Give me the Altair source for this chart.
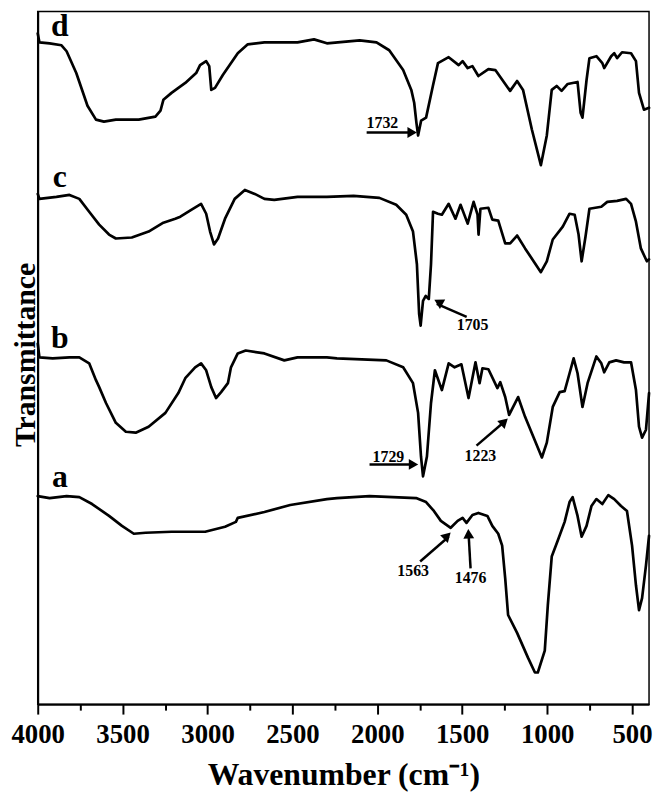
import altair as alt
import pandas as pd

d_wn = [4000, 3990, 3930, 3860, 3830, 3773, 3707, 3657, 3610, 3540, 3405, 3307, 3277, 3260, 3212, 3131, 3067, 3044, 3008, 2990, 2978, 2956, 2910, 2822, 2763, 2665, 2470, 2373, 2297, 2104, 2005, 1930, 1848, 1800, 1783, 1770, 1760, 1742, 1713, 1673, 1643, 1580, 1521, 1498, 1468, 1440, 1405, 1346, 1305, 1218, 1177, 1142, 1090, 1037, 1002, 973, 944, 915, 879, 821, 803, 792, 768, 751, 710, 675, 664, 623, 605, 588, 559, 506, 477, 459, 430, 400]
d_t = [677, 668, 667, 665, 659, 637, 604, 590, 588, 590, 590, 593, 599, 610, 617, 627, 637, 645, 649, 644, 620, 622, 635, 657, 666, 668, 668, 671, 667, 670, 668, 660, 640, 620, 607, 587, 574, 589, 592, 624, 647, 653, 645, 649, 642, 644, 634, 641, 640, 619, 629, 620, 580, 544, 574, 620, 624, 619, 626, 628, 597, 592, 630, 652, 654, 647, 642, 654, 657, 652, 658, 657, 649, 617, 600, 602]

c_wn = [4000, 3990, 3890, 3813, 3755, 3697, 3638, 3580, 3540, 3446, 3347, 3260, 3190, 3160, 3096, 3038, 3008, 2985, 2962, 2938, 2897, 2840, 2780, 2722, 2665, 2607, 2470, 2297, 2140, 1988, 1889, 1830, 1790, 1767, 1754, 1745, 1731, 1715, 1697, 1684, 1672, 1643, 1620, 1580, 1540, 1510, 1468, 1433, 1410, 1404, 1393, 1346, 1323, 1288, 1247, 1218, 1177, 1130, 1037, 1002, 967, 908, 868, 838, 815, 797, 774, 751, 681, 646, 588, 535, 506, 477, 448, 413, 400]
c_t = [515, 510, 512, 514, 510, 497, 484, 474, 470, 471, 477, 486, 490, 492, 499, 505, 495, 477, 464, 470, 490, 510, 519, 515, 510, 509, 512, 512, 513, 511, 504, 494, 477, 444, 394, 382, 407, 412, 409, 444, 497, 495, 494, 505, 490, 504, 485, 507, 494, 474, 500, 501, 489, 488, 465, 465, 473, 460, 436, 447, 469, 482, 495, 494, 474, 447, 472, 500, 502, 507, 508, 510, 505, 487, 460, 447, 449]

b_wn = [4000, 3990, 3912, 3813, 3755, 3697, 3657, 3638, 3598, 3540, 3481, 3423, 3347, 3248, 3172, 3131, 3073, 3038, 3008, 2978, 2950, 2920, 2880, 2862, 2822, 2775, 2665, 2548, 2470, 2297, 2238, 1947, 1848, 1790, 1760, 1743, 1731, 1708, 1684, 1661, 1620, 1580, 1545, 1505, 1463, 1422, 1398, 1381, 1346, 1293, 1276, 1247, 1224, 1171, 1130, 1031, 1002, 967, 926, 897, 868, 844, 821, 792, 762, 710, 681, 664, 634, 594, 547, 506, 477, 459, 441, 418, 400]
b_t = [364, 350, 349, 350, 350, 344, 327, 320, 304, 284, 275, 274, 280, 294, 314, 329, 340, 344, 337, 320, 309, 315, 324, 340, 354, 357, 354, 347, 350, 350, 349, 347, 340, 324, 294, 250, 230, 250, 304, 337, 317, 344, 340, 343, 309, 345, 324, 339, 338, 319, 325, 310, 292, 310, 290, 249, 264, 300, 315, 316, 334, 349, 334, 300, 324, 351, 344, 335, 345, 347, 345, 345, 317, 280, 269, 277, 314]

a_wn = [4000, 3930, 3830, 3755, 3680, 3580, 3504, 3434, 3365, 3212, 3014, 2897, 2833, 2822, 2665, 2513, 2297, 2238, 2046, 1772, 1713, 1667, 1626, 1568, 1527, 1498, 1475, 1440, 1405, 1352, 1323, 1288, 1265, 1247, 1230, 1177, 1113, 1072, 1055, 1014, 996, 973, 938, 897, 868, 850, 821, 797, 768, 739, 710, 675, 640, 605, 565, 530, 500, 477, 459, 441, 418, 400]
a_t = [210, 208, 210, 209, 202, 190, 180, 172, 173, 174, 174, 179, 184, 188, 194, 201, 207, 208, 210, 208, 204, 195, 185, 178, 185, 188, 183, 191, 193, 190, 180, 172, 160, 127, 90, 72, 47, 32, 32, 54, 100, 149, 165, 184, 204, 209, 190, 169, 180, 200, 207, 202, 211, 207, 200, 195, 160, 120, 95, 107, 140, 170]

# series labels
label_text = ["d", "c", "b", "a"]
label_wn = [3870, 3870, 3870, 3870]
label_t = [674, 522, 359, 219]

# peak annotations
ann_text = ["1732", "1705", "1729", "1223", "1563", "1476"]
ann_wn = [1970, 1439, 1935, 1393, 1789, 1451]
ann_t = [587, 383, 249, 250, 134, 127]
arrow_wn = [2063, 1474, 2046, 1416, 1748, 1451]
arrow_t = [577, 391, 242, 261, 144, 137]
arrow_wn2 = [1805, 1650, 1795, 1245, 1580, 1462]
arrow_t2 = [577, 404, 242, 286, 169, 170]
head_wn = [1795, 1640, 1787, 1252, 1588, 1463]
head_t = [577, 406, 242, 285, 170, 172]
head_angle = [90, 299, 90, 47, 45, 357]

major_ticks = [4000, 3500, 3000, 2500, 2000, 1500, 1000, 500]
minor_ticks = [3750, 3250, 2750, 2250, 1750, 1250, 750]

FONT = "Liberation Serif"

rows = []
for name, wn, t in [("a", a_wn, a_t), ("b", b_wn, b_t), ("c", c_wn, c_t), ("d", d_wn, d_t)]:
    for i, (w, v) in enumerate(zip(wn, t)):
        rows.append({"series": name, "idx": i, "wn": w, "t": v})
spectra = pd.DataFrame(rows)

labels_df = pd.DataFrame({"text": label_text, "wn": label_wn, "t": label_t})
ann_df = pd.DataFrame({"text": ann_text, "wn": ann_wn, "t": ann_t})
arrows_df = pd.DataFrame({"wn": arrow_wn, "t": arrow_t, "wn2": arrow_wn2, "t2": arrow_t2})
heads_df = pd.DataFrame({"wn": head_wn, "t": head_t, "angle": head_angle})
minor_df = pd.DataFrame({"wn": minor_ticks})

xscale = alt.Scale(domain=[400, 4000], reverse=True, nice=False, zero=False)
yscale = alt.Scale(domain=[0, 699], nice=False, zero=False)

major_axis = alt.Axis(values=major_ticks, tickSize=10, labelPadding=8, labelFontSize=27,
                      labelFlush=False, labelOverlap=False,
                      title="Wavenumber (cm⁻¹)", titleFontSize=32, titleBaseline="alphabetic",
                      titleY=81, orient="bottom", format="d")
minor_axis = alt.Axis(values=minor_ticks, tickSize=6, labels=False, domain=False,
                      title="", orient="bottom")
y_axis = alt.Axis(ticks=False, labels=False, title="Transmittance", titleFontSize=30,
                  titleBaseline="alphabetic", titleX=-3, titleY=346, titleAngle=270,
                  orient="left")

lines = alt.Chart(spectra).mark_line(color="black", strokeWidth=2.7, strokeJoin="round",
                                     strokeCap="round").encode(
    x=alt.X("wn:Q", scale=xscale, axis=major_axis),
    y=alt.Y("t:Q", scale=yscale, axis=y_axis),
    detail="series:N",
    order="idx:Q",
)

minor = alt.Chart(minor_df).mark_point(opacity=0).encode(
    x=alt.X("wn:Q", scale=xscale, axis=minor_axis),
)

series_labels = alt.Chart(labels_df).mark_text(
    font=FONT, fontWeight="bold", fontSize=32, color="black", align="center", baseline="alphabetic"
).encode(
    x=alt.X("wn:Q", scale=xscale, axis=None),
    y=alt.Y("t:Q", scale=yscale, axis=None),
    text="text:N",
)

ann_labels = alt.Chart(ann_df).mark_text(
    font=FONT, fontWeight="bold", fontSize=16, color="black", align="center", baseline="middle"
).encode(
    x=alt.X("wn:Q", scale=xscale, axis=None),
    y=alt.Y("t:Q", scale=yscale, axis=None),
    text="text:N",
)

arrows = alt.Chart(arrows_df).mark_rule(color="black", strokeWidth=2.5).encode(
    x=alt.X("wn:Q", scale=xscale, axis=None),
    y=alt.Y("t:Q", scale=yscale, axis=None),
    x2="wn2:Q",
    y2="t2:Q",
)

heads = alt.Chart(heads_df).mark_point(shape="triangle-up", filled=True, color="black",
                                        size=120, opacity=1).encode(
    x=alt.X("wn:Q", scale=xscale, axis=None),
    y=alt.Y("t:Q", scale=yscale, axis=None),
    angle=alt.Angle("angle:Q", scale=None),
)

chart = alt.layer(lines, minor, series_labels, ann_labels, arrows, heads).resolve_axis(
    x="independent", y="independent"
).properties(
    width=617,
    height=699,
    padding={"left": 30, "top": 0, "right": 4, "bottom": 86},
    autosize=alt.AutoSizeParams(type="none"),
    background="white",
).configure_view(
    stroke="black", strokeWidth=1.5
).configure_axis(
    domainColor="black", domainWidth=2, tickColor="black", tickWidth=2,
    labelColor="black", titleColor="black", labelFont=FONT, titleFont=FONT,
    labelFontWeight="bold", titleFontWeight="bold", grid=False,
)

chart.save("out.html", embed_options={"renderer": "svg", "actions": False})
